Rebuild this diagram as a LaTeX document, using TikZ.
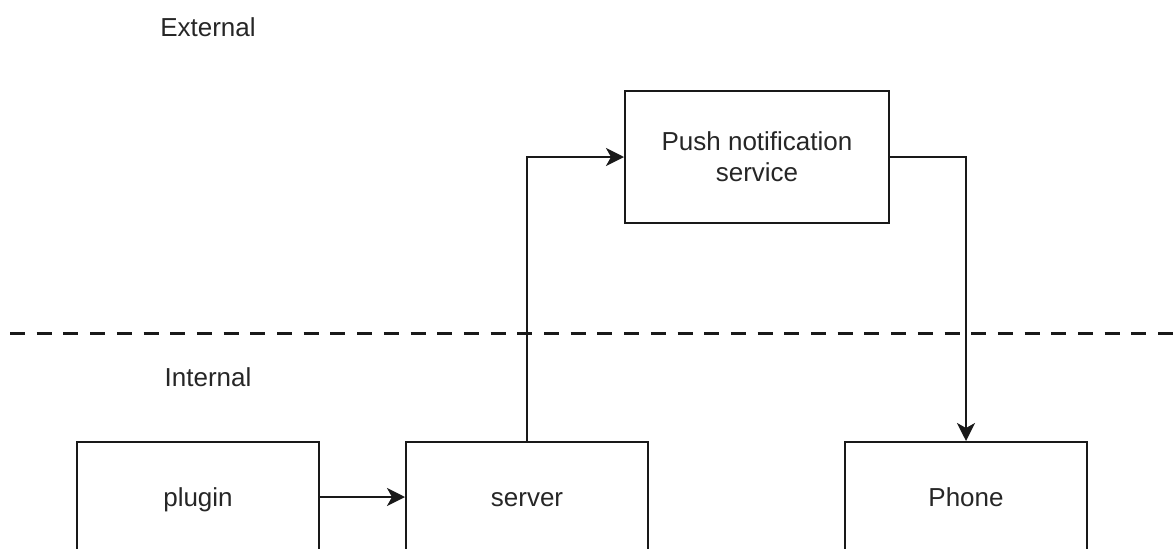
\documentclass[tikz,border=0pt]{standalone}
\usepackage{fontspec}
\setmainfont{Liberation Sans}
\usetikzlibrary{arrows.meta}
\begin{document}
\begin{tikzpicture}[x=1pt,y=-1pt,
  txt/.style={font=\fontsize{26}{31}\selectfont, text=black!85},
  box/.style={txt, draw=black!90, line width=2pt, inner sep=0pt, align=center},
  topbox/.style={box, minimum width=264pt, minimum height=132pt},
  lowbox/.style={box, minimum width=242pt, minimum height=110pt, text height=21pt, text depth=3pt},
  lbl/.style={txt, inner sep=0pt},
  conn/.style={draw=black!90, line width=2pt, -{Stealth[length=18pt,width=18pt,inset=5pt]}},
  divider/.style={draw=black!90, line width=3pt, dash pattern=on 15pt off 11.7pt}]
  \useasboundingbox (0,0) rectangle (1176,549);
  \clip (0,0) rectangle (1176,549);

  % zone labels
  \node[lbl] (ext) at (208,27) {External};
  \node[lbl] (int) at (208,377) {Internal};

  % boundary between external and internal zones
  \coordinate (dl) at (10,333);
  \coordinate (dr) at (1176,333);
  \draw[divider] (dl) -- (dr);

  % components
  \node[topbox] (push) at (757,157) {Push notification\\service};
  \node[lowbox] (plugin) at (198,497) {plugin};
  \node[lowbox] (server) at (527,497) {server};
  \node[lowbox] (phone) at (966,497) {Phone};

  % message flow
  \draw[conn] (plugin) -- (server);
  \draw[conn] (server.north) |- (push.west);
  \draw[conn] (push.east) -| (phone.north);
\end{tikzpicture}
\end{document}
